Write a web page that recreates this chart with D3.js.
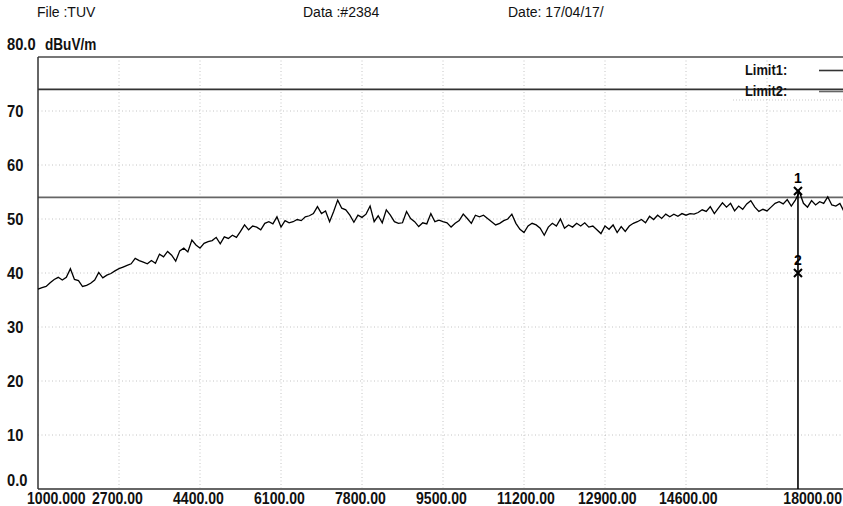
<!DOCTYPE html>
<html><head><meta charset="utf-8">
<script src="https://cdn.jsdelivr.net/npm/d3@7"></script>
<style>body{margin:0;background:#fff}svg{display:block}</style>
</head><body><svg id="c" width="843" height="506"></svg>
<script>
// ---- data ----
const headerTexts = ["File :TUV", "Data :#2384", "Date: 17/04/17/"];
const yUnit = "dBuV/m";
const yTickValues = [80, 70, 60, 50, 40, 30, 20, 10, 0];
const yTickLabels = ["80.0", "70", "60", "50", "40", "30", "20", "10", "0.0"];
const yGridValues = [70, 60, 50, 40, 30, 20, 10];
const xTickValues = [1000, 2700, 4400, 6100, 7800, 9500, 11200, 12900, 14600, 18000];
const xTickLabels = ["1000.000", "2700.00", "4400.00", "6100.00", "7800.00", "9500.00", "11200.00", "12900.00", "14600.00", "18000.00"];
const xGridValues = [2700, 4400, 6100, 7800, 9500, 11200, 12900, 14600, 16300];
const limitNames = ["Limit1:", "Limit2:"];
const limitValues = [74, 54];
const sweepStart = 1000, sweepStep = 85; // MHz
const levels = [
 37.0, 37.3, 37.5, 38.2, 38.8, 39.2, 38.7, 39.2, 40.8, 38.8,
 38.6, 37.5, 37.7, 38.1, 38.7, 40.1, 39.1, 39.6, 39.9, 40.4,
 40.8, 41.1, 41.4, 41.7, 42.7, 42.3, 42.0, 41.7, 42.3, 41.8,
 43.5, 43.0, 44.0, 43.3, 42.2, 44.1, 44.6, 43.9, 46.1, 45.2,
 44.6, 45.5, 45.8, 46.0, 46.6, 45.4, 46.7, 46.4, 47.0, 46.6,
 47.7, 48.9, 48.0, 48.7, 48.5, 48.0, 49.2, 49.5, 49.1, 50.4,
 48.5, 49.7, 49.3, 49.5, 49.9, 49.7, 50.4, 50.6, 51.0, 52.3,
 51.0, 51.5, 49.5, 51.4, 53.5, 52.0, 51.7, 50.7, 49.4, 50.7,
 50.3, 50.9, 52.4, 49.5, 50.6, 49.3, 51.7, 50.7, 49.5, 49.2,
 49.3, 51.4, 50.1, 49.5, 48.6, 49.3, 49.1, 51.0, 49.5, 49.8,
 49.5, 49.3, 48.5, 49.2, 49.7, 50.9, 50.1, 49.2, 50.7, 50.4,
 50.7, 50.1, 49.5, 48.9, 49.2, 49.7, 50.0, 50.9, 49.2, 48.1,
 47.5, 48.7, 49.2, 48.9, 48.3, 47.0, 48.5, 49.2, 48.7, 50.0,
 48.3, 48.9, 48.5, 49.2, 48.7, 49.3, 48.5, 48.7, 48.0, 47.3,
 48.7, 48.1, 48.9, 47.5, 48.6, 47.7, 48.7, 49.2,
 49.5, 49.9, 49.3, 50.5, 49.9, 50.7, 50.1, 50.9, 50.4, 50.9,
 50.5, 51.0, 50.7, 51.0, 50.9, 51.2, 51.7, 51.4, 52.3, 51.0,
 52.0, 53.0, 52.2, 52.9, 51.5, 52.4, 51.8, 52.8, 53.4, 52.2,
 51.4, 51.8, 51.5, 52.2, 52.9, 53.2, 52.8, 53.6, 52.4, 53.5,
 55.0, 52.9, 52.2, 53.4, 52.6, 53.2, 52.9, 54.1, 52.6, 52.4,
 52.9, 51.4, 51.5
];
const markerNames = ["1", "2"];
const markerFreqs = [16950, 16950];
const markerLevels = [55.2, 40.0];

// ---- chart ----
const svg = d3.select("#c");
const x = d3.scaleLinear().domain([1000, 18000]).range([38, 848]);
const y = d3.scaleLinear().domain([0, 80]).range([489, 57]);
const FONT = "'Liberation Sans', Arial, sans-serif";

// header
const headerX = [37, 303, 508];
svg.selectAll("text.hdr").data(headerTexts).join("text")
  .attr("class", "hdr").attr("x", (d, i) => headerX[i]).attr("y", 17)
  .attr("font-family", FONT).attr("font-size", 14).attr("fill", "#111").text(d => d);

// grid
svg.append("g").selectAll("line").data(yGridValues).join("line")
  .attr("x1", x(1000)).attr("x2", x(18000)).attr("y1", d => y(d)).attr("y2", d => y(d))
  .attr("stroke", "#b5b5b5").attr("stroke-width", 0.8).attr("stroke-dasharray", "1,2.5");
svg.append("g").selectAll("line").data(xGridValues).join("line")
  .attr("x1", d => x(d)).attr("x2", d => x(d)).attr("y1", y(80)).attr("y2", y(0))
  .attr("stroke", "#b5b5b5").attr("stroke-width", 0.8).attr("stroke-dasharray", "1,2.5");

// legend box bottom (faint)
svg.append("line").attr("x1", 733).attr("x2", 848).attr("y1", 100).attr("y2", 100)
  .attr("stroke", "#bbb").attr("stroke-width", 0.8).attr("stroke-dasharray", "1,2");

// limit lines
const limitColors = ["#333", "#666"];
svg.append("g").selectAll("line").data(limitValues).join("line")
  .attr("x1", x(1000)).attr("x2", x(18000)).attr("y1", d => y(d)).attr("y2", d => y(d))
  .attr("stroke", (d, i) => limitColors[i]).attr("stroke-width", 1.8);

// border
svg.append("line").attr("x1", x(1000)).attr("x2", x(18000)).attr("y1", y(80)).attr("y2", y(80))
  .attr("stroke", "#777").attr("stroke-width", 2);
svg.append("line").attr("x1", x(1000)).attr("x2", x(18000)).attr("y1", y(0)).attr("y2", y(0))
  .attr("stroke", "#666").attr("stroke-width", 2);
svg.append("line").attr("x1", x(1000)).attr("x2", x(1000)).attr("y1", y(80)).attr("y2", y(0))
  .attr("stroke", "#333").attr("stroke-width", 1.5);

// trace
const pts = levels.map((v, i) => [sweepStart + i * sweepStep, v]);
svg.append("path").datum(pts)
  .attr("d", d3.line().x(d => x(d[0])).y(d => y(d[1])))
  .attr("fill", "none").attr("stroke", "#000").attr("stroke-width", 1.3).attr("stroke-linejoin", "miter");

// marker line
svg.append("line").attr("x1", x(markerFreqs[0])).attr("x2", x(markerFreqs[0]))
  .attr("y1", y(markerLevels[0])).attr("y2", y(0)).attr("stroke", "#000").attr("stroke-width", 1.6);
const mk = svg.append("g").selectAll("g").data(markerNames).join("g")
  .attr("transform", (d, i) => `translate(${x(markerFreqs[i])},${y(markerLevels[i])})`);
mk.append("path").attr("d", "M-4,-4L4,4M-4,4L4,-4")
  .attr("stroke", "#000").attr("stroke-width", 2);
mk.append("text").attr("x", 0).attr("y", -8).attr("text-anchor", "middle")
  .attr("font-family", FONT).attr("font-weight", "bold").attr("font-size", 14).text(d => d);

// y labels
const yOff = v => v === 80 ? -13 : (v === 0 ? -9 : 0);
svg.append("g").selectAll("text").data(yTickValues).join("text")
  .attr("transform", d => `translate(7,${y(d) + yOff(d) + 6}) scale(0.92,1)`)
  .attr("font-family", FONT).attr("font-weight", "bold").attr("font-size", 16).attr("fill", "#111")
  .text((d, i) => yTickLabels[i]);
svg.append("text").attr("transform", `translate(45,${y(80) - 13 + 6}) scale(0.85,1)`)
  .attr("font-family", FONT).attr("font-weight", "bold").attr("font-size", 16).attr("fill", "#111").text(yUnit);

// x labels
const n = xTickValues.length;
svg.append("g").selectAll("text").data(xTickValues).join("text")
  .attr("transform", (d, i) => {
    const px = i === 0 ? x(d) - 11 : (i === n - 1 ? 842 : x(d) - 27);
    return `translate(${px},504) scale(0.88,1)`;
  })
  .attr("text-anchor", (d, i) => i === n - 1 ? "end" : "start")
  .attr("font-family", FONT).attr("font-weight", "bold").attr("font-size", 16).attr("fill", "#111")
  .text((d, i) => xTickLabels[i]);

// legend
const lg = svg.append("g").selectAll("g").data(limitNames).join("g")
  .attr("transform", (d, i) => `translate(745,${70 + i * 21})`);
lg.append("text").attr("y", 5).attr("transform", "scale(0.92,1)")
  .attr("font-family", FONT).attr("font-weight", "bold").attr("font-size", 14).attr("fill", "#111").text(d => d);
lg.append("line").attr("x1", 74).attr("x2", 103).attr("y1", 0.5).attr("y2", 0.5)
  .attr("stroke", (d, i) => limitColors[i]).attr("stroke-width", 1.6);
</script></body></html>
